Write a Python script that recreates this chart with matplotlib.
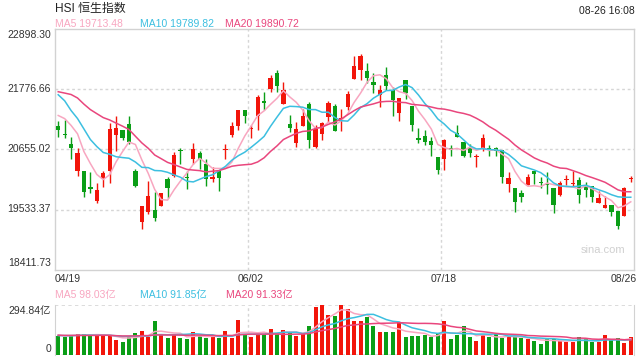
import numpy as np
import matplotlib
matplotlib.use("Agg")
import matplotlib.pyplot as plt

plt.rcParams['font.family'] = ['Liberation Sans', 'Noto Sans CJK SC', 'DejaVu Sans']

# ---------------- data ----------------
dates_shown = ["04/19", "06/02", "07/18", "08/26"]
date_idx = [0, 30, 60, 89]

opens = [21085, 20948, 20761, 20250, 20262, 19963, 19702, 20107, 20250, 20929,
         21010, 21135, 20262, 19297, 19496, 19527, 19596, 20107, 20169, 20655,
         20150, 20481, 20593, 20387, 20107, 20262, 20649, 20929, 21091, 21384,
         21035, 21278, 21552, 21777, 22088, 21496, 21135, 20773, 21085, 21496,
         20699, 20948, 21260, 21459, 21178, 21446, 21976, 22132, 22113, 21914,
         21665, 22038, 21770, 21334, 21945, 21459, 20873, 20898, 20805, 20512,
         20481, 20686, 20960, 20792, 20686, 20512, 20667, 20686, 20686, 20649,
         20013, 19932, 19845, 20001, 20262, 20044, 20013, 19938, 19814, 20094,
         20013, 20088, 19982, 19982, 19652, 19558, 19627, 19515, 19409, 20113]
closes = [21023, 20917, 20686, 20593, 19857, 19913, 19901, 20213, 21041, 21060,
          20867, 20792, 19982, 19608, 19795, 19378, 19851, 19932, 20555, 20624,
          20125, 20667, 20481, 20107, 20138, 20119, 20667, 21085, 21384, 21278,
          21048, 21633, 21527, 21989, 21839, 21758, 21054, 21029, 21272, 20836,
          21041, 21147, 21527, 20998, 21247, 21683, 22207, 22394, 21995, 21864,
          21770, 21833, 21571, 21615, 21714, 21104, 20836, 20792, 20730, 20281,
          20823, 20655, 20886, 20543, 20587, 20524, 20867, 20667, 20624, 20150,
          20119, 19670, 19764, 20150, 20200, 20032, 20001, 19621, 20038, 20107,
          20026, 19814, 19907, 19764, 19745, 19627, 19484, 19234, 19938, 20125]
highs = [21178, 21197, 20886, 20686, 20262, 20231, 20026, 20262, 21147, 21272,
         21023, 21272, 20294, 19608, 20063, 19864, 19851, 20150, 20605, 20686,
         20262, 20780, 20636, 20481, 20337, 20262, 20761, 21166, 21397, 21384,
         21104, 21677, 21727, 22051, 22132, 21914, 21303, 21166, 21415, 21540,
         21104, 21166, 21552, 21509, 21415, 21746, 22394, 22431, 22269, 22088,
         21864, 22182, 21820, 21615, 21945, 21459, 21060, 21023, 20886, 20512,
         20854, 20748, 21104, 20792, 20761, 20574, 20935, 20748, 20699, 20649,
         20244, 19932, 19907, 20200, 20262, 20150, 20231, 19938, 20075, 20188,
         20250, 20138, 20044, 19982, 19889, 19795, 19627, 19515, 19963, 20169]
lows = [20886, 20873, 20481, 20169, 19764, 19839, 19652, 19951, 20026, 20636,
        20823, 20761, 19951, 19172, 19452, 19328, 19596, 19751, 20150, 20387,
        19920, 20387, 20294, 19970, 20057, 19888, 20481, 20886, 21023, 21147,
        20873, 21023, 21384, 21727, 21727, 21496, 20979, 20699, 21085, 20680,
        20680, 20823, 21166, 20998, 20998, 21397, 21976, 21945, 21895, 21708,
        21446, 21758, 21272, 21178, 21602, 20992, 20773, 20730, 20543, 20200,
        20275, 20543, 20886, 20512, 20512, 20337, 20624, 20543, 20530, 20026,
        19870, 19496, 19670, 20001, 20013, 19938, 19826, 19465, 19783, 19994,
        19982, 19658, 19776, 19670, 19652, 19558, 19409, 19172, 19409, 20044]
# turnover in 亿
volumes = [113, 104, 119, 125, 125, 119, 113, 113, 113, 90,
           78, 107, 131, 143, 109, 201, 119, 101, 119, 101,
           94, 135, 113, 101, 107, 100, 141, 101, 205, 121,
           105, 121, 121, 152, 127, 147, 135, 113, 121, 170,
           283, 294.84, 234, 229, 292, 270, 199, 199, 225, 170,
           135, 135, 135, 192, 105, 111, 111, 119, 105, 127,
           199, 94, 117, 170, 105, 82, 119, 105, 123, 100,
           105, 105, 100, 94, 82, 64, 94, 94, 82, 76,
           76, 105, 94, 76, 76, 117, 88, 100, 70, 105]
# estimated sessions before the visible window (needed for the moving averages)
prior_closes = [21412, 21221, 21889, 22154, 21946, 21404, 21684, 21927, 22232, 21996,
                22039, 22502, 22080, 21808, 21872, 21208, 21319, 21374, 21518]
prior_volumes = [130, 118, 125, 140, 112, 105, 98, 120, 135, 110,
                 108, 122, 115, 104, 118, 126, 109, 112, 121]

price_ticks = [18411.73, 19533.37, 20655.02, 21776.66, 22898.30]
price_tick_labels = ["18411.73", "19533.37", "20655.02", "21776.66", "22898.30"]
vol_top = 294.84
vol_tick_labels = ["294.84亿", "0"]

title = "HSI 恒生指数"
timestamp = "08-26 16:08"
ma_legend = ["MA5 19713.48", "MA10 19789.82", "MA20 19890.72"]
vol_ma_legend = ["MA5 98.03亿", "MA10 91.85亿", "MA20 91.33亿"]

# ---------------- styles ----------------
RED = '#f2150a'
GREEN = '#0a9e16'
MA_COLORS = ['#f8a6c0', '#3cbfe0', '#e9467d']
GRID = '#d6d6d6'
FRAME = '#d2d2d2'
W, H = 640, 360


def ma(series, n):
    s = np.asarray(series, dtype=float)
    return np.convolve(s, np.ones(n) / n, mode='valid')


all_close = np.array(prior_closes + closes, dtype=float)
all_vol = np.array(prior_volumes + volumes, dtype=float)
N = len(closes)
x = np.arange(N)

fig = plt.figure(figsize=(6.4, 3.6), dpi=100)
fig.patch.set_facecolor('white')

ax = fig.add_axes([55 / W, 1 - 270 / H, (634 - 55) / W, (270 - 29) / H])
axv = fig.add_axes([55 / W, 1 - 355 / H, (634 - 55) / W, 50 / H])

# ---------------- price panel ----------------
ax.set_xlim(-0.5, N - 0.5)
ax.set_ylim(price_ticks[0], price_ticks[-1])
for t in price_ticks[1:-1]:
    ax.axhline(t, color=GRID, lw=1, ls=(0, (2, 2)), zorder=0)
for d in date_idx[1:3]:
    ax.axvline(d - 0.5, color=GRID, lw=1, ls=(0, (2, 2)), zorder=0)

min_body = 16
for i in range(N):
    o, c, h, l = opens[i], closes[i], highs[i], lows[i]
    col = RED if c >= o else GREEN
    ax.vlines(i, l, h, color=col, lw=1.0, zorder=2)
    lo = min(o, c)
    hgt = max(abs(c - o), min_body)
    ax.bar(i, hgt, bottom=lo - (hgt - abs(c - o)) / 2, width=0.66, color=col,
           edgecolor='none', zorder=3)

for n, colr in zip([5, 10, 20], MA_COLORS):
    m = ma(all_close, n)[-N:]
    ax.plot(x, m, color=colr, lw=1.1, zorder=4)

ax.set_xticks([])
ax.set_yticks([])
for sp in ax.spines.values():
    sp.set_color(FRAME)
    sp.set_linewidth(1)

# ---------------- volume panel ----------------
axv.set_xlim(-0.5, N - 0.5)
axv.set_ylim(0, vol_top)
vcols = [RED if closes[i] >= opens[i] else GREEN for i in range(N)]
axv.bar(x, volumes, width=0.62, color=vcols, edgecolor='none', zorder=2)
for n, colr in zip([5, 10, 20], MA_COLORS):
    m = ma(all_vol, n)[-N:]
    axv.plot(x, m, color=colr, lw=1.1, zorder=4)
axv.axhline(vol_top, color=GRID, lw=1.2, ls=(0, (2, 2)), zorder=0)
axv.axhline(0, color=GRID, lw=1.2, ls=(0, (2, 2)), zorder=0)
for d in date_idx[1:3]:
    axv.axvline(d - 0.5, color=GRID, lw=1, ls=(0, (2, 2)), zorder=0)
axv.set_xticks([])
axv.set_yticks([])
axv.spines['top'].set_visible(False)
axv.spines['bottom'].set_visible(False)
for s in ['left', 'right']:
    axv.spines[s].set_color(FRAME)

# ---------------- texts ----------------
FS = 7.5
TXT = '#333333'


def ftext(px, py, s, **kw):
    fig.text(px / W, 1 - py / H, s, **kw)


ftext(55, 8.5, title, fontsize=8.6, color='#222222', ha='left', va='center')
ftext(635, 10.5, timestamp, fontsize=FS, color='#222222', ha='right', va='center')
for s, px, colr in zip(ma_legend, [55, 140, 225], MA_COLORS):
    ftext(px, 24, s, fontsize=FS, color=colr, ha='left', va='center')
for s, px, colr in zip(vol_ma_legend, [55, 140, 226], MA_COLORS):
    ftext(px, 295, s, fontsize=FS, color=colr, ha='left', va='center')

# price labels
ypix = [269, 209, 149, 89, 29]
for lab, py, k in zip(price_tick_labels, ypix, range(5)):
    if k == 0:
        ftext(51, py - 1, lab, fontsize=FS, color=TXT, ha='right', va='bottom')
    elif k == 4:
        ftext(51, py + 1, lab, fontsize=FS, color=TXT, ha='right', va='top')
    else:
        ftext(51, py, lab, fontsize=FS, color=TXT, ha='right', va='center')

# volume labels
ftext(51, 306, vol_tick_labels[0], fontsize=FS, color=TXT, ha='right', va='top')
ftext(51, 354, vol_tick_labels[1], fontsize=FS, color=TXT, ha='right', va='bottom')

# date labels
for lab, d in zip(dates_shown, date_idx):
    xp = 55 + (d + 0.5) * (634 - 55) / N
    if d == 0:
        ftext(55, 279, lab, fontsize=FS, color=TXT, ha='left', va='center')
    elif d == N - 1:
        ftext(637, 279, lab, fontsize=FS, color=TXT, ha='right', va='center')
    else:
        ftext(xp - 1, 279, lab, fontsize=FS, color=TXT, ha='center', va='center')

ftext(603, 250, "sina.com", fontsize=8, color='#d0d0d0', ha='center', va='center')

fig.savefig("out.png", dpi=100, facecolor='white')
